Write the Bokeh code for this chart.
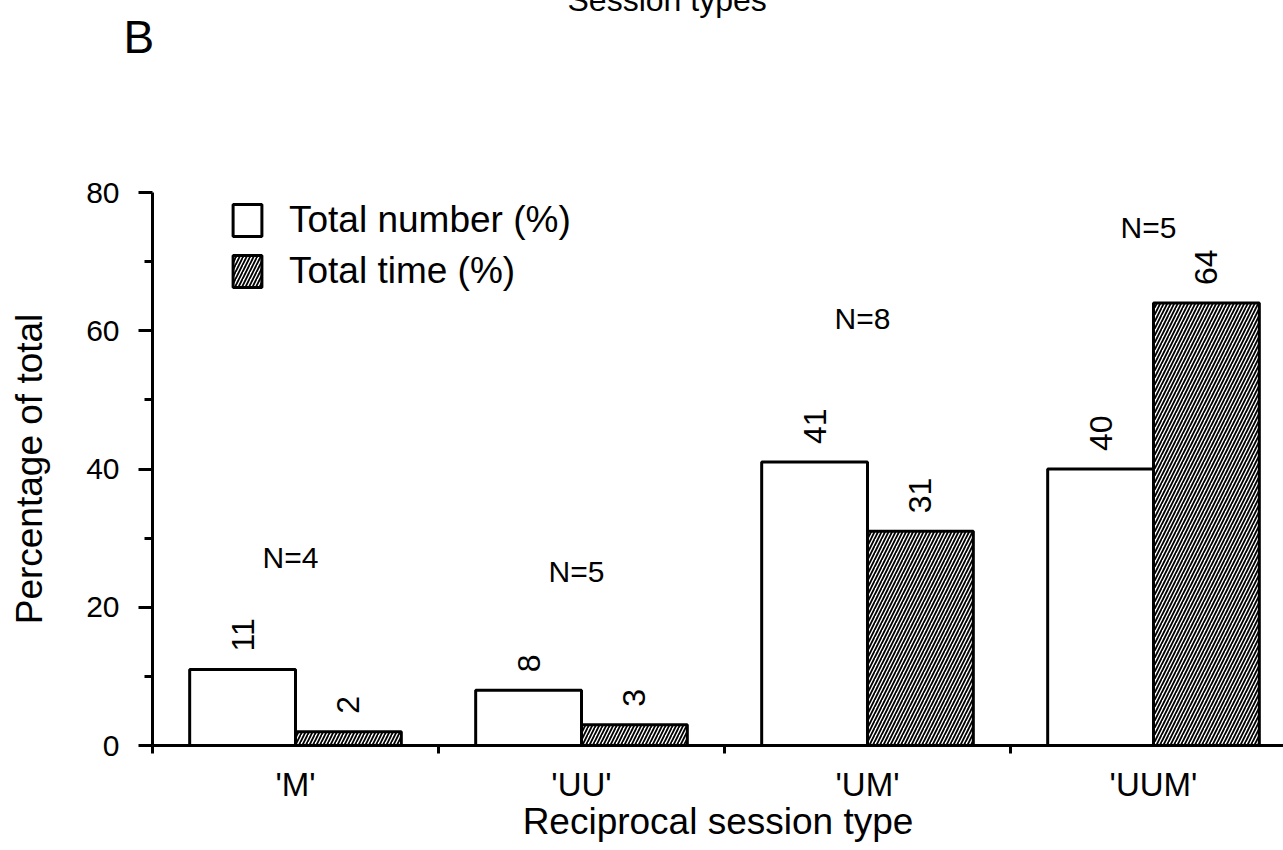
import numpy as np
from bokeh.plotting import figure
from bokeh.models import (ColumnDataSource, FixedTicker, Range1d, Legend, LegendItem,
                          LinearAxis, Title)
from bokeh.embed import file_html
from bokeh.resources import INLINE
from bokeh.core.properties import value

# ---------------- data ----------------
categories = ["'M'", "'UU'", "'UM'", "'UUM'"]
total_number_pct = [11, 8, 41, 40]
total_time_pct = [2, 3, 31, 64]
n_sessions = [4, 5, 8, 5]
y_ticks = [0, 20, 40, 60, 80]
y_minor_ticks = [10, 30, 50, 70]

# layout (annotation heights of the N labels, in axis units)
n_label_y = [27.2, 25.2, 61.8, 74.9]

FONT = "Liberation Sans"

W, H = 1283, 850
left = 152
frame_h = 553
frame_w = W - left
cat_px = 286.0
x_end = frame_w / cat_px

p = figure(width=W, height=H, output_backend="svg", toolbar_location=None,
           x_range=Range1d(0, x_end), y_range=Range1d(0, 80),
           min_border_left=left, min_border_top=0, min_border_bottom=105,
           min_border_right=0, x_axis_location=None, y_axis_location=None)
p.outline_line_color = None
p.grid.visible = False
p.background_fill_color = "white"
p.border_fill_color = "white"

centers = np.arange(len(categories)) + 0.5
bw = 0.37
src = ColumnDataSource(dict(
    xn=centers - bw / 2, xt=centers + bw / 2, xc=centers,
    num=total_number_pct, tim=total_time_pct,
    num_lbl=[str(v) for v in total_number_pct],
    tim_lbl=[str(v) for v in total_time_pct],
    n_lbl=["N=%d" % n for n in n_sessions], n_y=n_label_y,
))

r_num = p.vbar(x="xn", top="num", width=bw, bottom=0, source=src,
               fill_color="white", line_color="black", line_width=3)
r_tim = p.vbar(x="xt", top="tim", width=bw, bottom=0, source=src,
               fill_color="white", line_color="black", line_width=3,
               hatch_pattern="/", hatch_color="black", hatch_scale=7, hatch_weight=1.8)

lab_kw = dict(angle=np.pi / 2, text_align="left", text_baseline="middle",
              text_font=value(FONT), text_font_size="32px", text_color="black",
              y_offset=-18)
p.text(x="xn", y="num", text="num_lbl", source=src, **lab_kw)
p.text(x="xt", y="tim", text="tim_lbl", source=src, **lab_kw)

p.text(x="xc", y="n_y", text="n_lbl", source=src, text_align="center",
       text_baseline="middle", text_font=value(FONT), text_font_size="30px",
       text_color="black", x_offset=-5)

# axes
yax = LinearAxis(ticker=FixedTicker(ticks=y_ticks, minor_ticks=y_minor_ticks),
                 axis_label="Percentage of total")
yax.axis_line_width = 3
yax.major_tick_line_width = 3
yax.minor_tick_line_width = 3
yax.major_tick_out = 14
yax.major_tick_in = 0
yax.minor_tick_out = 8
yax.minor_tick_in = 0
yax.major_label_standoff = 19
yax.major_label_text_font = FONT
yax.major_label_text_font_size = "30px"
yax.major_label_text_color = "black"
yax.axis_label_text_font = FONT
yax.axis_label_text_font_size = "37px"
yax.axis_label_text_font_style = "normal"
yax.axis_label_text_color = "black"
yax.axis_label_standoff = 33
p.add_layout(yax, "left")

xax = LinearAxis(ticker=FixedTicker(ticks=list(centers), minor_ticks=list(range(len(categories)))),
                 axis_label="Reciprocal session type")
xax.major_label_overrides = {float(c): cat for c, cat in zip(centers, categories)}
xax.axis_line_width = 3
xax.major_tick_line_color = None
xax.major_tick_out = 0
xax.major_tick_in = 0
xax.minor_tick_line_width = 3
xax.minor_tick_out = 8
xax.minor_tick_in = 0
xax.major_label_standoff = 12
xax.major_label_text_font = FONT
xax.major_label_text_font_size = "33px"
xax.major_label_text_color = "black"
xax.axis_label_text_font = FONT
xax.axis_label_text_font_size = "37px"
xax.axis_label_text_font_style = "normal"
xax.axis_label_text_color = "black"
xax.axis_label_standoff = -5
p.add_layout(xax, "below")

# legend
legend = Legend(items=[LegendItem(label="Total number (%)", renderers=[r_num]),
                       LegendItem(label="Total time (%)", renderers=[r_tim])],
                location=(77, frame_h - 11 - 89), orientation="vertical",
                glyph_width=36, glyph_height=40, spacing=9, padding=0, margin=0,
                label_standoff=24, label_text_font=FONT, label_text_font_size="37px",
                label_text_color="black", border_line_color=None,
                background_fill_alpha=0, label_height=40)
p.add_layout(legend, "center")

# header stack above the frame: spacer, panel letter "B", caption clipped at the page top
spacer = Title(text=" ", text_font=FONT, text_font_size="10px", standoff=109)
letter = Title(text="B", align="left", offset=-29, standoff=16,
               text_font=FONT, text_font_size="46px", text_font_style="normal",
               text_color="black")
p.add_layout(spacer, "above")
p.add_layout(letter, "above")

p.title.text = "Session types"
p.title.align = "left"
p.title.offset = 415
p.title.vertical_align = "top"
p.title.standoff = -38
p.title.text_font = FONT
p.title.text_font_size = "32px"
p.title.text_font_style = "normal"
p.title.text_color = "black"

open("out.html", "w").write(file_html(p, INLINE))
